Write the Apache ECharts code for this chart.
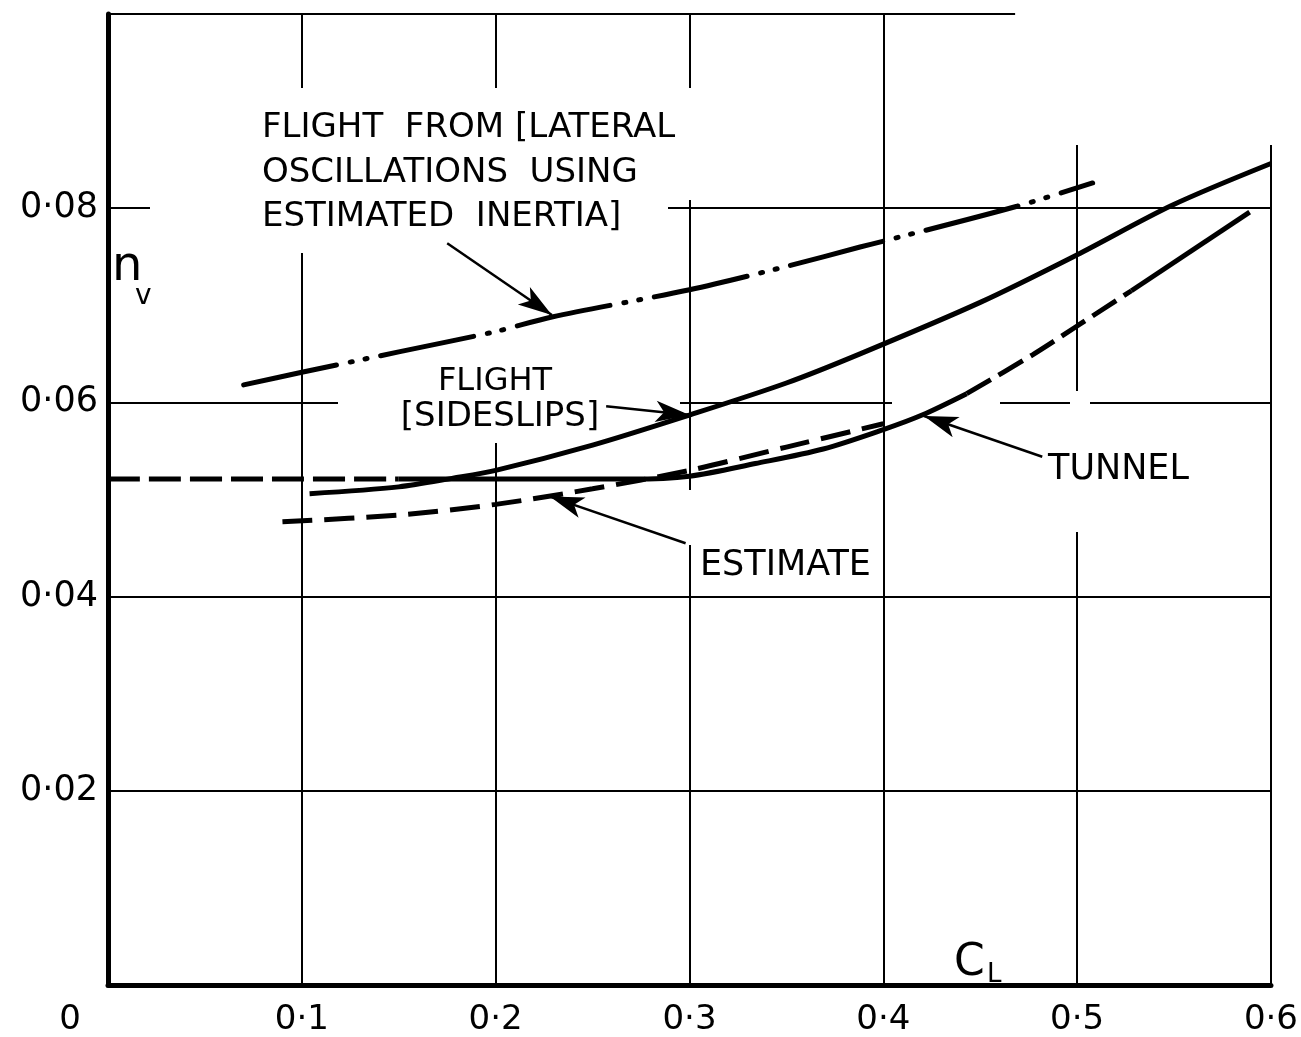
<!DOCTYPE html>
<html><head><meta charset="utf-8">
<script src="https://cdn.jsdelivr.net/npm/echarts@6/dist/echarts.min.js"></script>
<style>html,body{margin:0;padding:0;background:#fff}#c{width:1301px;height:1037px}</style>
</head><body><div id="c"></div>
<script>
// ---- data (x = C_L, y = n_v) ----
const oscillation = [[0.07,0.0618],[0.1,0.0631],[0.15,0.0652],[0.2,0.0673],[0.229,0.0688],[0.3,0.0716],[0.35,0.0740],[0.388,0.0760],[0.4,0.0766],[0.469,0.0802],[0.508,0.0826]];
const sideslips = [[0.104,0.0506],[0.15,0.0513],[0.178,0.0522],[0.2,0.0530],[0.25,0.0556],[0.3,0.0587],[0.35,0.0620],[0.388,0.0650],[0.45,0.0703],[0.5,0.0752],[0.549,0.0803],[0.6,0.0846]];
const tunnel = [[0,0.0521],[0.08,0.0521],[0.15,0.0521],[0.2,0.0521],[0.27,0.0521],[0.3,0.0524],[0.334,0.0537],[0.369,0.0552],[0.4,0.0572],[0.42,0.0587],[0.443,0.0609],[0.477,0.0649],[0.501,0.0680],[0.528,0.0715],[0.589,0.0796]];
const estimate = [[0.09,0.0477],[0.15,0.0484],[0.2,0.0495],[0.25,0.0511],[0.3,0.0530],[0.35,0.0554],[0.4,0.0578]];
const xTickLabels = ['0','0·1','0·2','0·3','0·4','0·5','0·6'];
const yTickLabels = ['','0·02','0·04','0·06','0·08',''];
const xGridValues = [0.1,0.2,0.3,0.4,0.5,0.6];
const yGridValues = [0.02,0.04,0.06,0.08];
// annotation pointers: [from, to] in data coordinates
const pointers = [
  [[0.175,0.0764],[0.229,0.0690]],
  [[0.257,0.0596],[0.300,0.0587]],
  [[0.298,0.0455],[0.228,0.0503]],
  [[0.482,0.0544],[0.421,0.0586]]
];

const FONT = '"DejaVu Sans", sans-serif';
const chart = echarts.init(document.getElementById('c'), null, {renderer:'canvas'});

const xGridTop = v => (v > 0.45 ? 0.0865 : 0.1);
const gridSegs = [];
xGridValues.forEach(v => gridSegs.push([{coord:[v,0]},{coord:[v,xGridTop(v)]}]));
yGridValues.forEach(v => gridSegs.push([{coord:[0,v]},{coord:[0.6,v]}]));
gridSegs.push([{coord:[0,0.1]},{coord:[0.468,0.1]}]);

const arrowSegs = pointers.map(p => [
  {coord:p[0], symbol:'none'},
  {coord:p[1], symbol:'arrow', symbolSize:[16,34]}
]);

const curve = (name, data, type, extra) => Object.assign({
  type:'line', name, data, smooth:0.3, symbol:'none', z:3,
  silent:true, animation:false,
  lineStyle:{color:'#000', width:5, type:type, cap:'butt'}
}, extra || {});

const T = (text, x, y, size, align) => ({
  type:'text', x, y, z:10,
  style:{text, font: size + 'px ' + FONT, fill:'#000', align: align || 'left', verticalAlign:'middle'}
});
const W = (x, y, w, h) => ({type:'rect', z:2, shape:{x, y, width:w, height:h}, style:{fill:'#fff'}});

chart.setOption({
  animation:false,
  backgroundColor:'#fff',
  grid:{left:108, right:29, top:14, bottom:45},
  xAxis:{
    type:'value', min:0, max:0.6, interval:0.1,
    axisLine:{show:true, onZero:false, lineStyle:{color:'#000', width:5}},
    axisTick:{show:false}, splitLine:{show:false},
    axisLabel:{
      margin:18, color:'#000', fontSize:34, fontFamily:FONT,
      formatter: v => { const i = Math.round(v*10); return i === 0 ? '{o|' + xTickLabels[0] + '}' : xTickLabels[i]; },
      rich:{o:{padding:[0,76,0,0], fontSize:34, fontFamily:FONT, color:'#000'}}
    }
  },
  yAxis:{
    type:'value', min:0, max:0.1, interval:0.02,
    axisLine:{show:true, onZero:false, lineStyle:{color:'#000', width:5}},
    axisTick:{show:false}, splitLine:{show:false},
    axisLabel:{margin:10, color:'#000', fontSize:35, fontFamily:FONT,
      formatter: v => yTickLabels[Math.round(v/0.02)] || ''}
  },
  series:[
    {type:'line', name:'grid', data:[], z:1, silent:true, animation:false,
     markLine:{silent:true, symbol:'none', z:1, animation:false, label:{show:false},
       lineStyle:{color:'#000', width:2, type:'solid'}, emphasis:{disabled:true}, data:gridSegs}},
    curve('Flight from lateral oscillations', oscillation, 'solid', {lineStyle:{color:'#000', width:5, type:[95,14,2,13,2,14], cap:'round'}}),
    curve('Flight sideslips', sideslips, 'solid'),
    curve('Tunnel', tunnel.slice(0,3), [32,9]),
    curve('Tunnel', tunnel.slice(2,11), 'solid'),
    curve('Tunnel', tunnel.slice(10,14), [28,9]),
    curve('Tunnel', tunnel.slice(13), 'solid'),
    curve('Estimate', estimate, [30,12]),
    {type:'line', name:'pointers', data:[], z:4, silent:true, animation:false,
     markLine:{silent:true, z:4, animation:false, label:{show:false}, symbol:['none','arrow'],
       lineStyle:{color:'#000', width:2.5, type:'solid'}, itemStyle:{color:'#000'},
       emphasis:{disabled:true}, data:arrowSegs}}
  ],
  graphic:{elements:[
    W(150,88,518,165), W(668,88,27,112), W(338,253,342,190), W(892,398,108,14), W(1070,391,20,141), W(684,490,14,55),
    T('FLIGHT  FROM [LATERAL', 262, 128, 34),
    T('OSCILLATIONS  USING', 262, 173, 34),
    T('ESTIMATED  INERTIA]', 262, 217, 34),
    T('FLIGHT', 495, 382, 32, 'center'),
    T('[SIDESLIPS]', 500, 417, 34, 'center'),
    T('ESTIMATE', 700, 566, 35),
    T('TUNNEL', 1048, 470, 35),
    T('n', 112, 268, 48),
    T('v', 135, 297, 28),
    T('C', 954, 964, 44),
    T('L', 987, 975, 26)
  ]}
});
</script></body></html>
